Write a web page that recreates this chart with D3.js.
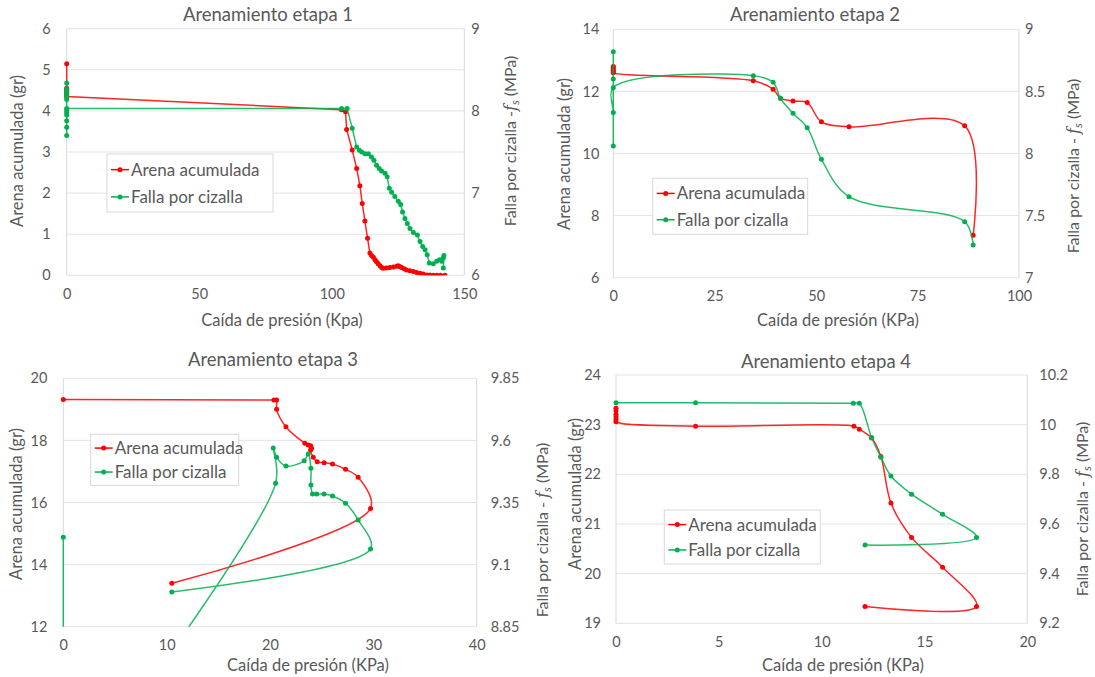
<!DOCTYPE html>
<html>
<head>
<meta charset="utf-8">
<script src="https://cdn.jsdelivr.net/npm/d3@7"></script>
<style>
  body { margin: 0; background: #fff; }
  svg text { font-family: Lato, "Noto Sans", sans-serif; fill: #595959; }
</style>
</head>
<body>
<script>
const width = 1095;
const height = 677;
const red = "#ff0000";
const green = "#00b050";

// ---- etapa 1 ----
const e1ArenaX = [0, 0, 0, 0, 0, 0, 103.7, 105.2, 105.6, 107.7, 109.4, 110.6, 111.5, 112.5, 113.5, 114.4,
  115.0, 115.7, 116.3, 116.9, 117.5, 118.2, 118.8, 119.4, 120.6, 121.9, 123.2, 124.5, 125.1, 125.8, 126.4,
  127.3, 128.2, 129.5, 130.8, 132.0, 133.3, 134.5, 135.8, 137.0, 138.3, 139.6, 141.0, 142.7];
const e1ArenaY = [5.15, 4.55, 4.5, 4.45, 4.4, 4.35, 4.03, 3.98, 3.55, 3.05, 2.6, 2.18, 1.75, 1.32, 0.9, 0.54,
  0.48, 0.44, 0.38, 0.33, 0.28, 0.23, 0.19, 0.17, 0.18, 0.19, 0.2, 0.22, 0.23, 0.21, 0.19,
  0.16, 0.13, 0.11, 0.09, 0.07, 0.05, 0.03, 0.01, 0.005, 0, 0, 0, 0];
const e1FallaX = [0, 0, 0, 0, 0, 0, 0, 0, 0, 0, 0, 0, 0, 103.7, 105.8, 107.7, 109.4, 110.4, 111.3, 112.5,
  113.8, 115.0, 115.9, 116.9, 117.9, 118.8, 120.1, 120.9, 121.7, 122.6, 123.8, 125.1, 126.0, 126.7, 127.6,
  128.5, 129.5, 130.8, 132.3, 133.3, 134.3, 135.2, 136.0, 136.8, 138.3, 139.6, 140.6, 141.5, 142.1, 142.3, 142.1];
const e1FallaY = [8.34, 8.26, 8.23, 8.2, 8.17, 8.14, 7.7, 7.8, 7.88, 7.95, 7.98, 8.01, 8.03, 8.03, 8.03, 7.79,
  7.56, 7.52, 7.5, 7.48, 7.48, 7.44, 7.4, 7.34, 7.3, 7.27, 7.24, 7.2, 7.06, 7.01, 6.96, 6.9, 6.86, 6.77, 6.69,
  6.63, 6.57, 6.52, 6.49, 6.41, 6.35, 6.31, 6.25, 6.15, 6.14, 6.17, 6.19, 6.17, 6.21, 6.24, 6.09];

// ---- etapa 2 ----
const e2ArenaX = [0, 0, 0, 0, 0, 34.5, 39.4, 41.2, 44.3, 47.8, 51.3, 58.1, 86.6, 88.7];
const e2ArenaY = [12.8, 12.75, 12.7, 12.65, 12.6, 12.34, 12.07, 11.78, 11.69, 11.64, 11.02, 10.86, 10.89, 7.37];
const e2FallaX = [0, 0, 0, 0, 0, 34.5, 39.4, 41.2, 44.3, 47.8, 51.3, 58.1, 86.6, 88.7];
const e2FallaY = [8.82, 8.6, 8.06, 8.33, 8.53, 8.627, 8.573, 8.444, 8.324, 8.208, 7.953, 7.652, 7.451, 7.263];

// ---- etapa 3 ----
const e3ArenaX = [0, 20.38, 20.64, 20.64, 21.54, 23.37, 23.7, 23.93, 24.02, 23.93, 24.18, 24.57, 25.24, 26.05,
  27.31, 28.53, 29.73, 10.5];
const e3ArenaY = [19.32, 19.3, 19.3, 19.0, 18.44, 17.91, 17.85, 17.83, 17.75, 17.69, 17.46, 17.31, 17.28, 17.24,
  17.07, 16.81, 15.81, 13.4];
const e3FallaX = [0, 0, 0, 20.54, 20.31, 20.64, 21.54, 23.31, 23.7, 23.96, 23.96, 24.12, 24.51, 25.24, 26.05,
  27.31, 28.53, 29.73, 10.5];
const e3FallaY = [9.21, 8.15, 8.15, 9.427, 9.569, 9.532, 9.497, 9.518, 9.545, 9.488, 9.42, 9.384, 9.384, 9.384, 9.376,
  9.347, 9.28, 9.163, 8.99];

// ---- etapa 4 ----
const e4ArenaX = [0, 0, 0, 0, 0, 0, 3.87, 11.57, 11.83, 12.43, 12.88, 13.37, 14.37, 15.88, 17.53, 12.11];
const e4ArenaY = [23.33, 23.28, 23.21, 23.16, 23.11, 23.06, 22.97, 22.97, 22.91, 22.73, 22.36, 21.42, 20.73,
  20.13, 19.34, 19.34];
const e4FallaX = [0, 3.87, 11.54, 11.83, 12.43, 12.88, 13.37, 14.37, 15.88, 17.53, 12.11];
const e4FallaY = [10.088, 10.088, 10.086, 10.086, 9.948, 9.869, 9.793, 9.72, 9.639, 9.546, 9.515];

// ticks
const e1XTicks = [0, 50, 100, 150];
const e1LTicks = [0, 1, 2, 3, 4, 5, 6];
const e1RTicks = [6, 7, 8, 9];
const e2XTicks = [0, 25, 50, 75, 100];
const e2LTicks = [6, 8, 10, 12, 14];
const e2RTicks = [7, 7.5, 8, 8.5, 9];
const e3XTicks = [0, 10, 20, 30, 40];
const e3LTicks = [12, 14, 16, 18, 20];
const e3RTicks = [8.85, 9.1, 9.35, 9.6, 9.85];
const e4XTicks = [0, 5, 10, 15, 20];
const e4LTicks = [19, 20, 21, 22, 23, 24];
const e4RTicks = [9.2, 9.4, 9.6, 9.8, 10, 10.2];

const legendNames = ["Arena acumulada", "Falla por cizalla"];

const panels = [
  {
    title: "Arenamiento etapa 1", xLabel: "Caída de presión (Kpa)", rDash: "Falla por cizalla -",
    xTicks: e1XTicks, lTicks: e1LTicks, rTicks: e1RTicks, smooth: false,
    arena: [e1ArenaX, e1ArenaY], falla: [e1FallaX, e1FallaY],
    l: 66.7, r: 464.3, t: 28.7, b: 275.3, lPad: 16, rPad: 7,
    titleX: 268, titleY: 15, xLabX: 282, xLabY: 320,
    lLabX: 17, lLabY: 151, rLabX: 510, rLabY: 141,
    leg: { x: 107, y: 154, w: 166, h: 58 }
  },
  {
    title: "Arenamiento etapa 2", xLabel: "Caída de presión  (KPa)", rDash: "Falla por cizalla  - ",
    xTicks: e2XTicks, lTicks: e2LTicks, rTicks: e2RTicks, smooth: true,
    arena: [e2ArenaX, e2ArenaY], falla: [e2FallaX, e2FallaY],
    l: 613.3, r: 1019, t: 29.3, b: 277.7, lPad: 14, rPad: 6,
    titleX: 815, titleY: 15, xLabX: 838, xLabY: 320,
    lLabX: 564, lLabY: 154, rLabX: 1073, rLabY: 166,
    leg: { x: 652.7, y: 178.3, w: 155, h: 56 }
  },
  {
    title: "Arenamiento etapa 3", xLabel: "Caída de presión  (KPa)", rDash: "Falla por cizalla  - ",
    xTicks: e3XTicks, lTicks: e3LTicks, rTicks: e3RTicks, smooth: true,
    arena: [e3ArenaX, e3ArenaY], falla: [e3FallaX, e3FallaY],
    l: 63.3, r: 476.7, t: 378.3, b: 626.7, lPad: 16, rPad: 14,
    titleX: 273, titleY: 360, xLabX: 308, xLabY: 665,
    lLabX: 16, lLabY: 504, rLabX: 542, rLabY: 530,
    leg: { x: 90.7, y: 434.3, w: 148, h: 51 }
  },
  {
    title: "Arenamiento etapa 4", xLabel: "Caída de presión  (KPa)", rDash: "Falla por cizalla  - ",
    xTicks: e4XTicks, lTicks: e4LTicks, rTicks: e4RTicks, smooth: true,
    arena: [e4ArenaX, e4ArenaY], falla: [e4FallaX, e4FallaY],
    l: 616, r: 1027.3, t: 375, b: 623.3, lPad: 15, rPad: 12,
    titleX: 826, titleY: 362, xLabX: 843, xLabY: 665,
    lLabX: 575, lLabY: 494, rLabX: 1082, rLabY: 509,
    leg: { x: 664.3, y: 510, w: 156, h: 54 }
  }
];

const svg = d3.select("body").append("svg").attr("width", width).attr("height", height);

panels.forEach((p, i) => drawPanel(p, i));

function drawPanel(p, i) {
  const g = svg.append("g");
  const xMax = p.xTicks[p.xTicks.length - 1];
  const x = d3.scaleLinear().domain([0, xMax]).range([p.l, p.r]);
  const yL = d3.scaleLinear().domain(d3.extent(p.lTicks)).range([p.b, p.t]);
  const yR = d3.scaleLinear().domain(d3.extent(p.rTicks)).range([p.b, p.t]);

  // gridlines
  g.selectAll(".grid")
    .data(p.lTicks)
    .enter()
    .append("line")
    .attr("x1", p.l)
    .attr("x2", p.r)
    .attr("y1", (d) => yL(d))
    .attr("y2", (d) => yL(d))
    .attr("stroke", "#e4e4e4")
    .attr("stroke-width", 1);
  g.append("line").attr("x1", p.l).attr("x2", p.l).attr("y1", p.t).attr("y2", p.b)
    .attr("stroke", "#d9d9d9");
  g.append("line").attr("x1", p.r).attr("x2", p.r).attr("y1", p.t).attr("y2", p.b)
    .attr("stroke", "#d9d9d9");

  // axes
  const ax = g.append("g").attr("transform", `translate(0,${p.b})`)
    .call(d3.axisBottom(x).tickValues(p.xTicks).tickSize(0).tickPadding(13));
  const al = g.append("g").attr("transform", `translate(${p.l},0)`)
    .call(d3.axisLeft(yL).tickValues(p.lTicks).tickSize(0).tickPadding(p.lPad).tickFormat(String));
  const ar = g.append("g").attr("transform", `translate(${p.r},0)`)
    .call(d3.axisRight(yR).tickValues(p.rTicks).tickSize(0).tickPadding(p.rPad).tickFormat(String));
  [ax, al, ar].forEach((a) => {
    a.select(".domain").remove();
    a.attr("font-family", null).attr("font-size", null);
    a.selectAll("text").attr("font-size", 14.5).attr("fill", "#595959");
  });

  // clip
  g.append("clipPath").attr("id", `clip${i}`).append("rect")
    .attr("x", p.l - 3).attr("y", p.t - 3).attr("width", p.r - p.l + 6).attr("height", p.b - p.t + 3);

  const plot = g.append("g").attr("clip-path", `url(#clip${i})`);
  const curve = p.smooth ? d3.curveCatmullRom.alpha(0.5) : d3.curveLinear;
  drawSeries(plot, p.arena, x, yL, red, curve);
  drawSeries(plot, p.falla, x, yR, green, curve);

  // legend
  const lg = g.append("g");
  lg.append("rect").attr("x", p.leg.x).attr("y", p.leg.y).attr("width", p.leg.w).attr("height", p.leg.h)
    .attr("fill", "#fff").attr("stroke", "#d9d9d9");
  [red, green].forEach((c, k) => {
    const cy = p.leg.y + p.leg.h * (k === 0 ? 0.27 : 0.74);
    lg.append("line").attr("x1", p.leg.x + 4).attr("x2", p.leg.x + 22).attr("y1", cy).attr("y2", cy)
      .attr("stroke", c).attr("stroke-width", 1.5);
    lg.append("circle").attr("cx", p.leg.x + 13).attr("cy", cy).attr("r", 2.5).attr("fill", c);
    lg.append("text").attr("x", p.leg.x + 24).attr("y", cy).attr("dy", "0.35em")
      .attr("font-size", 17).text(legendNames[k]);
  });

  // titles
  g.append("text").attr("x", p.titleX).attr("y", p.titleY).attr("dy", "0.35em")
    .attr("text-anchor", "middle").attr("font-size", 18.5).text(p.title);
  g.append("text").attr("x", p.xLabX).attr("y", p.xLabY).attr("dy", "0.35em")
    .attr("text-anchor", "middle").attr("font-size", 16.5).text(p.xLabel);
  g.append("text").attr("transform", `translate(${p.lLabX},${p.lLabY}) rotate(-90)`).attr("dy", "0.35em")
    .attr("text-anchor", "middle").attr("font-size", 16.5).text("Arena acumulada (gr)");
  const rl = g.append("text").attr("transform", `translate(${p.rLabX},${p.rLabY}) rotate(-90)`)
    .attr("dy", "0.35em").attr("text-anchor", "middle").attr("font-size", 16);
  rl.append("tspan").text(p.rDash);
  rl.append("tspan").attr("font-style", "italic").attr("font-family", "'DejaVu Serif', serif").text("f");
  rl.append("tspan").attr("font-size", 12).attr("baseline-shift", "-25%").attr("font-style", "italic").text("s");
  rl.append("tspan").text(" (MPa)");
}

function drawSeries(plot, series, x, y, color, curve) {
  const pts = series[0].map((v, k) => [v, series[1][k]]);
  const line = d3.line().x((d) => x(d[0])).y((d) => y(d[1])).curve(curve);
  plot.append("path").attr("d", line(pts)).attr("fill", "none")
    .attr("stroke", color).attr("stroke-width", 1.5).attr("stroke-opacity", 0.85);
  plot.selectAll(null)
    .data(pts)
    .enter()
    .append("circle")
    .attr("cx", (d) => x(d[0]))
    .attr("cy", (d) => y(d[1]))
    .attr("r", 2.5)
    .attr("fill", color);
}
</script>
</body>
</html>
